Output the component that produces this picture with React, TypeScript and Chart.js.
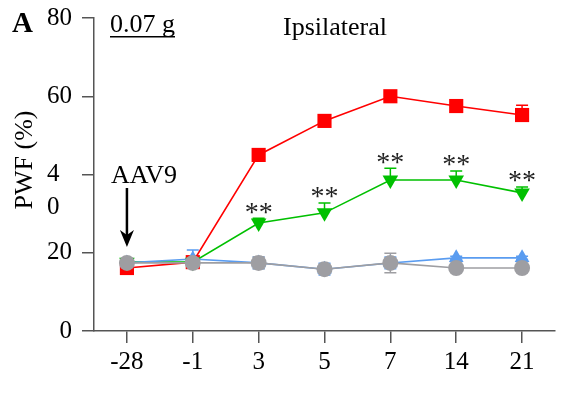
import React, { useEffect, useRef } from "react";
import { Chart, registerables } from "chart.js";

Chart.register(...registerables);

const categories = ["-28", "-1", "3", "5", "7", "14", "21"];
const yTicks = [0, 20, 40, 60, 80];

const redValues = [16.1, 17.6, 45, 53.7, 60, 57.5, 55.2];
const redErrors = [1, 0.6, 1, 0.8, 1, 0.8, 2.5];
const greenValues = [17.6, 17.6, 27.6, 30.2, 38.6, 38.6, 35.3];
const greenErrors = [0.8, 0.8, 1.2, 2.5, 3, 2.3, 1.5];
const blueValues = [17.4, 18.4, 17.4, 15.8, 17.4, 18.7, 18.7];
const blueErrors = [0.8, 2.3, 1.5, 1.5, 1.5, 0.4, 0.4];
const grayValues = [17.4, 17.4, 17.4, 15.8, 17.4, 16.1, 16.1];
const grayErrors = [0.5, 0.5, 1.5, 1, 2.5, 0.4, 0.4];

const starIndices = [2, 3, 4, 5, 6];
const starLabel = "**";

const RED = "#ff0000";
const GREEN = "#00c000";
const BLUE = "#5a9cf0";
const GRAY = "#9e9ea2";
const SERIF = "'Liberation Serif', 'Times New Roman', serif";

const errorsByDataset = [redErrors, greenErrors, blueErrors, grayErrors];
const lowerBarsByDataset = [false, false, true, true];

const errorBarPlugin = {
  id: "errorBars",
  beforeDatasetsDraw(chart: any) {
    const ctx = chart.ctx;
    const y = chart.scales.y;
    chart.data.datasets.forEach((ds: any, di: number) => {
      const meta = chart.getDatasetMeta(di);
      const errs = errorsByDataset[di];
      const lower = lowerBarsByDataset[di];
      ctx.save();
      ctx.strokeStyle = ds.borderColor;
      ctx.lineWidth = 1.5;
      meta.data.forEach((pt: any, i: number) => {
        const v = ds.data[i];
        const e = errs[i];
        const top = y.getPixelForValue(v + e);
        const bot = lower ? y.getPixelForValue(v - e) : pt.y;
        ctx.beginPath();
        ctx.moveTo(pt.x, top);
        ctx.lineTo(pt.x, bot);
        ctx.moveTo(pt.x - 6, top);
        ctx.lineTo(pt.x + 6, top);
        if (lower) {
          ctx.moveTo(pt.x - 6, bot);
          ctx.lineTo(pt.x + 6, bot);
        }
        ctx.stroke();
      });
      ctx.restore();
    });
  },
};

const annotationPlugin = {
  id: "annotations",
  afterDraw(chart: any) {
    const ctx = chart.ctx;
    const x = chart.scales.x;
    const y = chart.scales.y;
    ctx.save();
    ctx.fillStyle = "#000";
    // panel letter
    ctx.font = `bold 29px ${SERIF}`;
    ctx.textAlign = "left";
    ctx.textBaseline = "alphabetic";
    ctx.fillText("A", 12, 32);
    // 0.07 g underlined
    ctx.font = `26px ${SERIF}`;
    ctx.fillText("0.07 g", 110, 32);
    const w = ctx.measureText("0.07 g").width;
    ctx.fillRect(110, 36, w, 1.5);
    // title
    ctx.fillText("Ipsilateral", 283, 35);
    // broken 40 tick: the "0"
    ctx.font = `25px ${SERIF}`;
    ctx.textAlign = "right";
    ctx.textBaseline = "middle";
    const fig = ctx.measureText("\u2007").width;
    ctx.fillText("0", y.right - 22 - fig, y.getPixelForValue(40) + 33);
    // y title
    ctx.save();
    ctx.translate(25, 160);
    ctx.rotate(-Math.PI / 2);
    ctx.textAlign = "center";
    ctx.textBaseline = "middle";
    ctx.font = `26px ${SERIF}`;
    ctx.fillText("PWF (%)", 0, 0);
    ctx.restore();
    // AAV9 arrow
    const ax = x.getPixelForValue(0);
    ctx.textAlign = "center";
    ctx.textBaseline = "alphabetic";
    ctx.font = `26px ${SERIF}`;
    ctx.fillText("AAV9", ax + 17, 183);
    ctx.strokeStyle = "#000";
    ctx.lineWidth = 2.5;
    ctx.beginPath();
    ctx.moveTo(ax, 188);
    ctx.lineTo(ax, 236);
    ctx.stroke();
    ctx.beginPath();
    ctx.moveTo(ax - 7, 230);
    ctx.lineTo(ax, 247);
    ctx.lineTo(ax + 7, 230);
    ctx.lineTo(ax, 235);
    ctx.closePath();
    ctx.fill();
    // significance stars
    ctx.font = `28px ${SERIF}`;
    ctx.fillStyle = "#222";
    ctx.textAlign = "center";
    ctx.textBaseline = "middle";
    starIndices.forEach((i) => {
      const px = x.getPixelForValue(i);
      const py = y.getPixelForValue(greenValues[i] + greenErrors[i]);
      ctx.fillText(starLabel, px, py - 5);
    });
    ctx.restore();
  },
};

function makeDataset(label: string, data: number[], color: string, style: string, rotation: number, radius: number, order: number) {
  return {
    label,
    data,
    borderColor: color,
    backgroundColor: color,
    pointBackgroundColor: color,
    pointBorderColor: color,
    pointStyle: style,
    pointRotation: rotation,
    pointRadius: radius,
    pointBorderWidth: 0,
    borderWidth: 1.6,
    tension: 0,
    order,
  };
}

export default function App() {
  const ref = useRef<HTMLCanvasElement>(null);
  useEffect(() => {
    if (!ref.current) return;
    const chart = new Chart(ref.current, {
      type: "line",
      data: {
        labels: categories,
        datasets: [
          makeDataset("red", redValues, RED, "rect", 0, 10, 3),
          makeDataset("green", greenValues, GREEN, "triangle", 180, 9, 2),
          makeDataset("blue", blueValues, BLUE, "triangle", 0, 8.5, 1),
          makeDataset("gray", grayValues, GRAY, "circle", 0, 8, 0),
        ] as any,
      },
      options: {
        animation: false,
        responsive: false,
        layout: { padding: { top: 18, right: 2, left: 0, bottom: 0 } },
        plugins: { legend: { display: false }, tooltip: { enabled: false } },
        scales: {
          x: {
            offset: true,
            grid: { drawOnChartArea: false, drawTicks: true, tickLength: 12, color: "#555", lineWidth: 1.5, offset: false },
            border: { color: "#555", width: 1.5 },
            ticks: { color: "#000", font: { family: SERIF, size: 25 }, padding: 4, maxRotation: 0 },
            afterFit: (s: any) => { s.height = 88; s.paddingLeft = 0; s.paddingRight = 0; },
          },
          y: {
            min: 0,
            max: 80,
            afterBuildTicks: (s: any) => { s.ticks = yTicks.map((v) => ({ value: v })); },
            grid: { drawOnChartArea: false, drawTicks: true, tickLength: 12, color: "#555", lineWidth: 1.5 },
            border: { color: "#555", width: 1.5 },
            ticks: {
              color: "#000",
              font: { family: SERIF, size: 25 },
              padding: 10,
              callback: (v: any) => (v === 40 ? "4\u2007" : String(v)),
            },
            afterFit: (s: any) => { s.width = 94; s.paddingTop = 0; s.paddingBottom = 0; },
          },
        },
      },
      plugins: [errorBarPlugin, annotationPlugin],
    });
    return () => chart.destroy();
  }, []);
  return (
    <div style={{ position: "absolute", left: 0, top: 0, width: 565, height: 419, background: "#fff" }}>
      <canvas ref={ref} width={565} height={419} />
    </div>
  );
}
